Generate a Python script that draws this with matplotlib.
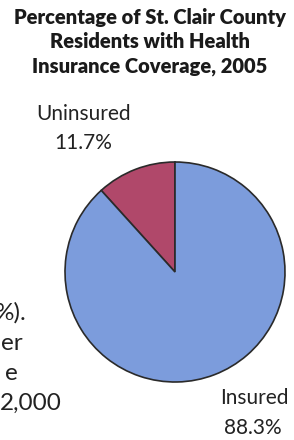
import matplotlib.pyplot as plt

# pie data
labels = ["Uninsured", "Insured"]
values = [11.7, 88.3]
colors = ["#b0486a", "#7c9cdc"]

title_lines = ["Percentage of St. Clair County", "Residents with Health", "Insurance Coverage, 2005"]
# clipped body text at the left edge of the scan
side_text = ["%).", "er", "e", "2,000"]

fig = plt.figure(figsize=(2.94, 4.40), dpi=100)
ax = fig.add_axes([0, 0, 1, 1])

ax.pie(values, colors=colors, startangle=90, counterclock=True,
       center=(175, 168), radius=110, frame=True,
       wedgeprops={"edgecolor": "#2a2a2a", "linewidth": 1.2})
ax.set_xlim(0, 294)
ax.set_ylim(0, 440)
ax.set_aspect("equal")
ax.axis("off")

for i, line in enumerate(title_lines):
    ax.text(150, 423 - i * 24.5, line, ha="center", va="center",
            fontsize=14.5, fontweight="heavy", family="Lato", color="#1a1a1a")

ax.text(84, 326, labels[0], ha="center", va="center", fontsize=15, family="Lato", color="#222")
ax.text(83, 297, f"{values[0]}%", ha="center", va="center", fontsize=15, family="Lato", color="#222")
ax.text(254, 42, labels[1], ha="center", va="center", fontsize=15, family="Lato", color="#222")
ax.text(253, 12, f"{values[1]}%", ha="center", va="center", fontsize=15, family="Lato", color="#222")

side_right = [27, 23, 18, 62]
for i, t in enumerate(side_text):
    ax.text(side_right[i], 127 - i * 30, t, ha="right", va="center",
            fontsize=17.5, family="Lato", color="#222")

fig.savefig("out.png", dpi=100)
